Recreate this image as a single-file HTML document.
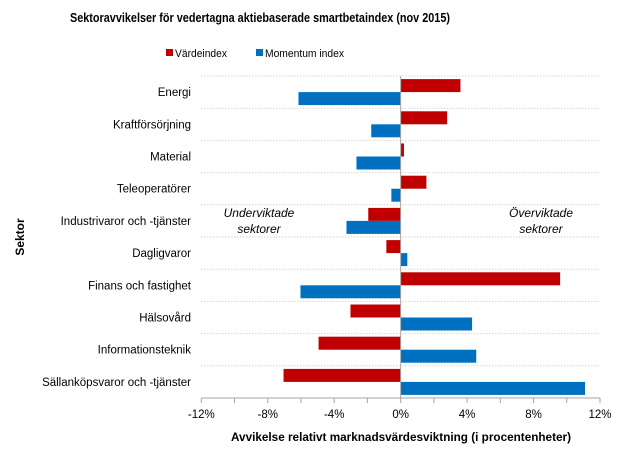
<!DOCTYPE html>
<html><head><meta charset="utf-8"><style>
html,body{margin:0;padding:0;background:#fff;}
svg{display:block;font-family:"Liberation Sans",sans-serif;}
</style></head><body>
<svg id="chart" width="620" height="454" viewBox="0 0 620 454">
<rect width="620" height="454" fill="#fff"/>
<text x="260" y="22" text-anchor="middle" font-size="12.5" font-weight="bold" fill="#000" textLength="380" lengthAdjust="spacingAndGlyphs">Sektoravvikelser för vedertagna aktiebaserade smartbetaindex (nov 2015)</text>
<g>
<rect x="166" y="49" width="7" height="7" fill="#C00000"/>
<text x="175" y="57" font-size="11" textLength="52" lengthAdjust="spacingAndGlyphs">Värdeindex</text>
<rect x="256" y="49" width="7" height="7" fill="#0070C0"/>
<text x="265" y="57" font-size="11" textLength="79" lengthAdjust="spacingAndGlyphs">Momentum index</text>
</g>
<text transform="translate(24,237) rotate(-90)" text-anchor="middle" font-size="12" font-weight="bold">Sektor</text>
<text x="401" y="441" text-anchor="middle" font-size="12" font-weight="bold" textLength="340" lengthAdjust="spacingAndGlyphs">Avvikelse relativt marknadsvärdesviktning  (i procentenheter)</text>
<g font-size="12" font-style="italic" text-anchor="middle">
<text x="259" y="217">Underviktade</text><text x="259" y="233">sektorer</text></g>
<g font-size="12" font-style="italic" text-anchor="middle">
<text x="541" y="217">Överviktade</text><text x="541" y="233">sektorer</text></g>
<g id="grid"></g><g id="bars"></g><g id="axes"></g><g id="labels"></g>
</svg>
<script>
const categories=["Energi","Kraftförsörjning","Material","Teleoperatörer","Industrivaror och -tjänster","Dagligvaror","Finans och fastighet","Hälsovård","Informationsteknik","Sällanköpsvaror och -tjänster"];
const vardeValues=[3.6,2.8,0.2,1.55,-1.95,-0.86,9.6,-3.02,-4.94,-7.05];
const momentumValues=[-6.15,-1.77,-2.66,-0.56,-3.26,0.4,-6.03,4.3,4.55,11.1];
const tickValues=[-12,-8,-4,0,4,8,12];
const tickLabels=["-12%","-8%","-4%","0%","4%","8%","12%"];
const NS="http://www.w3.org/2000/svg";
const X0=201.3,X1=600,Y0=76,Y1=398;
const xScale=v=>X0+(v+12)/24*(X1-X0);
const rowH=(Y1-Y0)/categories.length;
const yRow=i=>Y0+i*rowH;
function mk(tag,attrs,parent){const e=document.createElementNS(NS,tag);for(const k in attrs)e.setAttribute(k,attrs[k]);document.getElementById(parent).appendChild(e);return e;}
for(let i=0;i<categories.length;i++){
  if(i>0||true){const g=mk('line',{x1:X0,x2:X1,y1:yRow(i),y2:yRow(i),stroke:'#bfbfbf','stroke-dasharray':'1,2'},'grid');
  
  }
  const bh=13, top=yRow(i)+(rowH-2*bh)/2;
  const v=vardeValues[i],m=momentumValues[i];
  const r=mk('rect',{x:Math.min(xScale(0),xScale(v)),y:top,width:Math.abs(xScale(v)-xScale(0)),height:bh,fill:'#C00000'},'bars');
  
  
  const b=mk('rect',{x:Math.min(xScale(0),xScale(m)),y:top+bh,width:Math.abs(xScale(m)-xScale(0)),height:bh,fill:'#0070C0'},'bars');
  
  
  const t=mk('text',{x:191,y:yRow(i)+rowH/2+4,'text-anchor':'end','font-size':'11.5'},'labels');
  t.textContent=categories[i];
  
  
}
const za=mk('line',{x1:xScale(0),x2:xScale(0),y1:Y0,y2:Y1+1,stroke:'#a6a6a6'},'axes');


const xa=mk('line',{x1:X0,x2:X1,y1:Y1,y2:Y1,stroke:'#a6a6a6'},'axes');


for(let v=-12;v<=12;v+=2){const tk=mk('line',{x1:xScale(v),x2:xScale(v),y1:Y1,y2:Y1+5,stroke:'#a6a6a6'},'axes');
  
  }
tickValues.forEach((v,i)=>{const t=mk('text',{x:xScale(v),y:418,'text-anchor':'middle','font-size':'11.5'},'labels');
  t.textContent=tickLabels[i];
  
  });
</script>
</body></html>
